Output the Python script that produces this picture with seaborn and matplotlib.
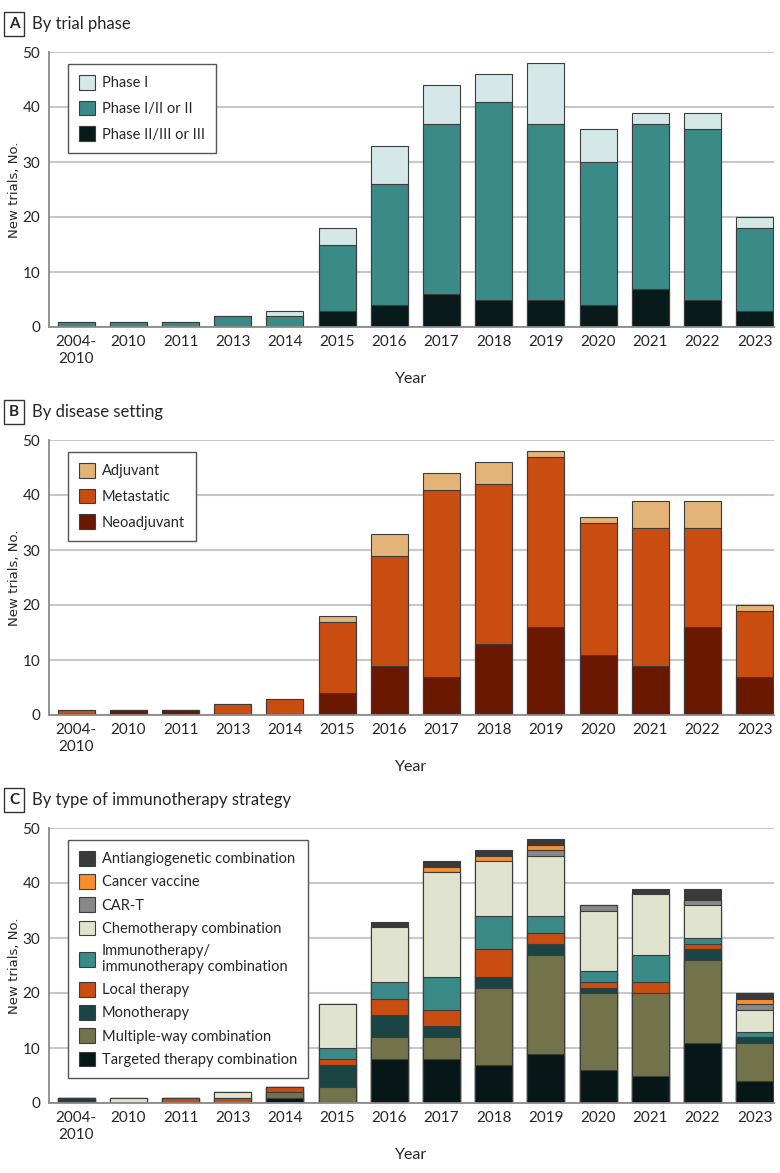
import numpy as np
import seaborn as sns
import matplotlib.pyplot as plt
from matplotlib.patches import Patch

years = ['2004-\n2010', '2010', '2011', '2013', '2014', '2015', '2016',
         '2017', '2018', '2019', '2020', '2021', '2022', '2023']

# Panel A - by trial phase (bottom to top)
phase_3 = [0, 0, 0, 0, 0, 3, 4, 6, 5, 5, 4, 7, 5, 3]
phase_2 = [1, 1, 1, 2, 2, 12, 22, 31, 36, 32, 26, 30, 31, 15]
phase_1 = [0, 0, 0, 0, 1, 3, 7, 7, 5, 11, 6, 2, 3, 2]

# Panel B - by disease setting (bottom to top)
neoadjuvant = [0, 1, 1, 0, 0, 4, 9, 7, 13, 16, 11, 9, 16, 7]
metastatic = [1, 0, 0, 2, 3, 13, 20, 34, 29, 31, 24, 25, 18, 12]
adjuvant = [0, 0, 0, 0, 0, 1, 4, 3, 4, 1, 1, 5, 5, 1]

# Panel C - by immunotherapy strategy (bottom to top)
targeted = [0, 0, 0, 0, 1, 0, 8, 8, 7, 9, 6, 5, 11, 4]
multiple_way = [0, 0, 0, 0, 1, 3, 4, 4, 14, 18, 14, 15, 15, 7]
monotherapy = [1, 0, 0, 0, 0, 4, 4, 2, 2, 2, 1, 0, 2, 1]
local = [0, 0, 1, 1, 1, 1, 3, 3, 5, 2, 1, 2, 1, 0]
immuno_combo = [0, 0, 0, 0, 0, 2, 3, 6, 6, 3, 2, 5, 1, 1]
chemo = [0, 1, 0, 1, 0, 8, 10, 19, 10, 11, 11, 11, 6, 4]
car_t = [0, 0, 0, 0, 0, 0, 0, 0, 0, 1, 1, 0, 1, 1]
vaccine = [0, 0, 0, 0, 0, 0, 0, 1, 1, 1, 0, 0, 0, 1]
antiangio = [0, 0, 0, 0, 0, 0, 1, 1, 1, 1, 0, 1, 2, 1]

sns.set_style('white')
plt.rcParams['font.family'] = ['Lato', 'DejaVu Sans']

fig = plt.figure(figsize=(7.8, 11.73), dpi=100)
W, H = 780, 1173


def px_axes(left, top, right, bottom):
    return fig.add_axes([left / W, 1 - bottom / H, (right - left) / W, (bottom - top) / H])


def stacked(ax, layers, labels, colors, labelspacing):
    cum = np.cumsum(np.array(layers), axis=0)
    # draw from the top layer down so lower segments sit on top
    for i in range(len(layers) - 1, -1, -1):
        sns.barplot(x=years, y=cum[i], color=colors[i], saturation=1, width=0.71,
                    edgecolor='#3c3c3c', linewidth=0.8, ax=ax)
    ax.set_xlim(-0.53, 13.37)
    ax.set_ylim(0, 50)
    ax.set_yticks(range(0, 51, 10))
    ax.grid(axis='y', color='#c8c8c8', linewidth=1.5)
    ax.set_axisbelow(True)
    sns.despine(ax=ax)
    for s in ['left', 'bottom']:
        ax.spines[s].set_color('#8a8a8a')
        ax.spines[s].set_linewidth(1.3)
    ax.tick_params(axis='y', length=4, width=1, color='#8a8a8a', pad=2, labelsize=11)
    ax.tick_params(axis='x', length=0, pad=6, labelsize=11)
    ax.set_xlabel('Year', fontsize=11.5, labelpad=5)
    ax.set_ylabel('New trials, No.', fontsize=9.5, family='DejaVu Sans', labelpad=1)
    handles = [Patch(facecolor=colors[i], edgecolor='#3c3c3c', linewidth=0.8, label=labels[i])
               for i in range(len(layers) - 1, -1, -1)]
    leg = ax.legend(handles=handles, loc='upper left', bbox_to_anchor=(0.027, 0.956),
                    frameon=True, fancybox=False, framealpha=1, edgecolor='#555555',
                    fontsize=10.5, handlelength=1.1, handleheight=1.15, handletextpad=0.45,
                    labelspacing=labelspacing, borderpad=0.75, borderaxespad=0)
    leg.get_frame().set_linewidth(1.0)


def panel_title(y_px, letter, text):
    fig.text(14 / W, 1 - y_px / H, letter, fontsize=11, fontweight='bold', ha='center', va='center',
             bbox=dict(boxstyle='square,pad=0.3', facecolor='white', edgecolor='#333333', linewidth=1))
    fig.text(32 / W, 1 - y_px / H, text, fontsize=12, ha='left', va='center')


ax_a = px_axes(48.5, 52, 774, 327)
stacked(ax_a, [phase_3, phase_2, phase_1],
        ['Phase II/III or III', 'Phase I/II or II', 'Phase I'],
        ['#081a1a', '#3a8a88', '#d4e8e8'], 0.72)
panel_title(24, 'A', 'By trial phase')

ax_b = px_axes(48.5, 440, 774, 715)
stacked(ax_b, [neoadjuvant, metastatic, adjuvant],
        ['Neoadjuvant', 'Metastatic', 'Adjuvant'],
        ['#6a1800', '#c94c10', '#e3b377'], 0.72)
panel_title(412, 'B', 'By disease setting')

ax_c = px_axes(48.5, 828, 774, 1103)
stacked(ax_c, [targeted, multiple_way, monotherapy, local, immuno_combo, chemo, car_t, vaccine, antiangio],
        ['Targeted therapy combination', 'Multiple-way combination', 'Monotherapy', 'Local therapy',
         'Immunotherapy/\nimmunotherapy combination', 'Chemotherapy combination', 'CAR-T',
         'Cancer vaccine', 'Antiangiogenetic combination'],
        ['#071616', '#72734b', '#1b4544', '#c94c10', '#3a8a88', '#e0e3cd', '#888888',
         '#f78f2f', '#3a3a3a'], 0.55)
panel_title(800, 'C', 'By type of immunotherapy strategy')

fig.savefig('out.png', dpi=100)
